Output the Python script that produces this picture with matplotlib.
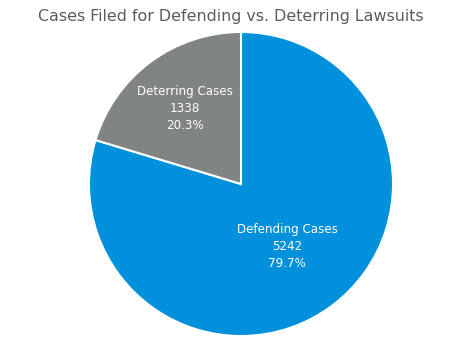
import numpy as np
import matplotlib
matplotlib.use("Agg")
import matplotlib.pyplot as plt

title = "Cases Filed for Defending vs. Deterring Lawsuits"
categories = ["Defending Cases", "Deterring Cases"]
values = [5242, 1338]
colors = ["#0090DC", "#808483"]
label_radii = [0.51, 0.615]

W, H, DPI = 463, 356, 100
fig = plt.figure(figsize=(W / DPI, H / DPI), dpi=DPI)
ax = fig.add_axes([0, 0, 1, 1])
R = 152.0
cx, cy = 241.0, 184.0
ax.set_aspect("equal")
ax.axis("off")

wedges, _ = ax.pie(values, colors=colors, startangle=90, counterclock=False,
                   radius=1.0, wedgeprops=dict(edgecolor="white", linewidth=1.5))
ax.set_xlim(-cx / R, (W - cx) / R)
ax.set_ylim(-(H - cy) / R, cy / R)

total = sum(values)
for w, cat, v, r in zip(wedges, categories, values, label_radii):
    ang = np.deg2rad((w.theta1 + w.theta2) / 2)
    ax.text(r * np.cos(ang), r * np.sin(ang),
            f"{cat}\n{v}\n{100 * v / total:.1f}%",
            ha="center", va="center", color="white", fontsize=8.6,
            linespacing=1.4, family="DejaVu Sans")

fig.text(231 / W, 1 - 17 / H, title, ha="center", va="center",
         color="#5f5959", fontsize=11.4)

fig.savefig("out.png", dpi=DPI)
